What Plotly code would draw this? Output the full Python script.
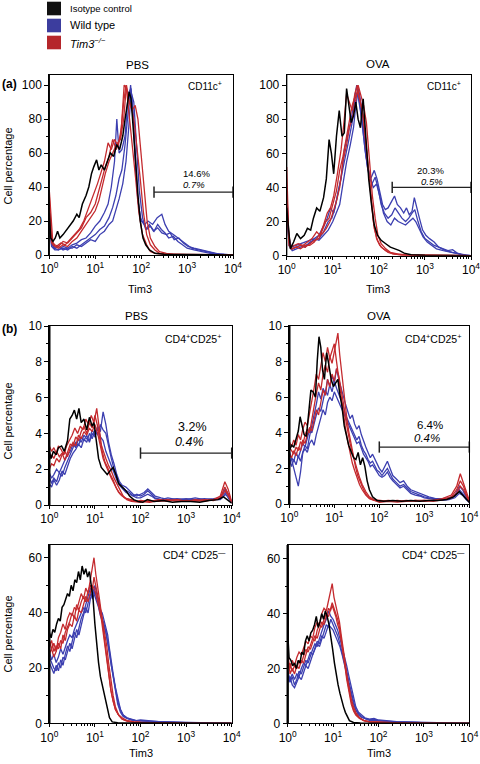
import plotly.graph_objects as go

# ---------------- DATA : (log10 Tim3 intensity, cell percentage) ----------------
# (a) CD11c+  PBS
A_PBS_ISO = [(0.0,25),(0.03,10),(0.08,8),(0.13,10),(0.18,14),(0.23,10),(0.30,12),(0.38,15),(0.45,17),(0.52,20),
             (0.60,24),(0.65,22),(0.72,30),(0.80,35),(0.86,40),(0.92,48),(0.97,52),(1.03,56),(1.08,50),(1.13,53),
             (1.20,50),(1.27,56),(1.33,60),(1.40,58),(1.47,65),(1.53,62),(1.60,70),(1.65,80),(1.70,90),(1.74,96),
             (1.78,92),(1.83,75),(1.88,55),(1.93,35),(1.98,20),(2.04,10),(2.10,6),(2.18,3),(2.30,1),(2.50,0.5),
             (3.0,0.2),(3.5,0.1),(4.0,0)]
A_PBS_WT1 = [(0,22),(0.04,10),(0.1,4),(0.2,3),(0.3,4),(0.4,3),(0.5,5),(0.6,4),(0.7,6),(0.8,8),(0.9,10),(1.0,12),
             (1.1,15),(1.2,17),(1.3,22),(1.38,28),(1.45,35),(1.52,45),(1.58,50),(1.65,65),(1.72,85),(1.77,100),
             (1.82,85),(1.87,60),(1.92,35),(1.98,22),(2.05,18),(2.12,15),(2.2,17),(2.28,14),(2.36,18),(2.44,15),
             (2.52,13),(2.6,10),(2.7,11),(2.8,8),(2.9,6),(3.0,4),(3.15,3),(3.3,2),(3.5,1),(3.7,0.5),(4,0)]
A_PBS_WT2 = [(0,20),(0.05,6),(0.12,4),(0.2,5),(0.3,3),(0.4,4),(0.5,6),(0.6,7),(0.7,9),(0.8,10),(0.9,13),(1.0,17),
             (1.1,20),(1.2,25),(1.28,30),(1.35,40),(1.42,55),(1.47,80),(1.52,60),(1.58,62),(1.65,70),(1.72,95),
             (1.78,98),(1.83,80),(1.88,50),(1.94,30),(2.0,20),(2.08,18),(2.15,20),(2.25,18),(2.35,22),(2.45,24),
             (2.52,18),(2.6,14),(2.7,12),(2.8,10),(2.9,8),(3.0,6),(3.1,4),(3.25,3),(3.4,2),(3.6,1),(3.8,0.3),(4,0)]
A_PBS_WT3 = [(0,18),(0.05,5),(0.12,3),(0.2,3),(0.3,5),(0.4,4),(0.5,4),(0.6,6),(0.7,5),(0.8,7),(0.9,9),(1.0,8),
             (1.1,12),(1.2,14),(1.3,18),(1.38,20),(1.45,26),(1.52,33),(1.6,42),(1.67,55),(1.73,75),(1.78,96),
             (1.84,90),(1.9,65),(1.96,38),(2.03,22),(2.1,15),(2.18,18),(2.27,14),(2.36,16),(2.45,13),(2.55,12),
             (2.63,13),(2.72,9),(2.82,10),(2.92,7),(3.02,5),(3.15,4),(3.3,3),(3.5,1.5),(3.7,0.5),(4,0)]
A_PBS_KO1 = [(0,38),(0.04,20),(0.08,6),(0.15,5),(0.25,7),(0.35,6),(0.45,9),(0.55,12),(0.65,15),(0.75,20),(0.85,27),
             (0.95,35),(1.05,42),(1.12,48),(1.2,55),(1.28,66),(1.35,62),(1.42,68),(1.5,64),(1.57,75),(1.63,100),
             (1.68,98),(1.73,85),(1.8,70),(1.88,45),(1.95,25),(2.03,12),(2.12,6),(2.2,2),(2.3,1),(2.5,0.5),(3,0.2),(4,0)]
A_PBS_KO2 = [(0,35),(0.05,8),(0.12,6),(0.2,5),(0.3,8),(0.4,7),(0.5,10),(0.6,13),(0.7,16),(0.8,22),(0.9,25),(1.0,30),
             (1.08,38),(1.15,45),(1.22,52),(1.3,58),(1.38,68),(1.46,62),(1.55,70),(1.62,90),(1.67,100),(1.72,92),
             (1.78,88),(1.85,78),(1.92,62),(1.98,45),(2.05,25),(2.12,12),(2.2,6),(2.3,3),(2.4,1),(2.6,0.5),(3.0,0.2),(4,0)]
A_PBS_KO3 = [(0,30),(0.05,7),(0.12,5),(0.2,4),(0.3,6),(0.4,5),(0.5,8),(0.6,10),(0.7,14),(0.8,18),(0.9,22),(1.0,26),
             (1.08,32),(1.15,40),(1.22,48),(1.3,55),(1.38,60),(1.46,65),(1.55,68),(1.62,80),(1.68,100),(1.74,90),
             (1.8,85),(1.87,88),(1.93,80),(2.0,60),(2.06,40),(2.13,20),(2.2,10),(2.3,5),(2.4,2),(2.55,1),(2.7,0.5),(3,0.3),(4,0)]

# (a) CD11c+  OVA
A_OVA_ISO = [(0.0,28),(0.03,20),(0.08,4),(0.15,8),(0.22,13),(0.30,10),(0.38,12),(0.45,16),(0.52,15),(0.58,22),
             (0.65,28),(0.72,26),(0.8,34),(0.86,45),(0.92,68),(0.97,60),(1.02,48),(1.08,70),(1.14,85),(1.2,70),
             (1.25,72),(1.3,98),(1.35,88),(1.4,78),(1.45,82),(1.5,90),(1.55,80),(1.6,75),(1.66,92),(1.72,68),
             (1.78,45),(1.84,30),(1.9,18),(1.97,12),(2.05,9),(2.15,7),(2.25,5),(2.35,4),(2.45,3),(2.55,1.5),
             (2.7,0.5),(3.0,0.2),(4.0,0)]
A_OVA_WT1 = [(0,40),(0.04,12),(0.1,5),(0.2,6),(0.3,7),(0.4,8),(0.5,9),(0.6,10),(0.7,12),(0.8,18),(0.88,22),(0.95,28),
             (1.02,25),(1.1,35),(1.18,45),(1.25,62),(1.32,70),(1.4,80),(1.46,90),(1.52,100),(1.58,90),(1.64,78),
             (1.7,62),(1.76,52),(1.82,45),(1.9,50),(1.96,45),(2.02,38),(2.08,30),(2.14,27),(2.2,28),(2.28,32),
             (2.34,35),(2.4,30),(2.47,28),(2.54,25),(2.6,28),(2.66,24),(2.72,26),(2.77,34),(2.82,28),(2.88,22),
             (2.95,15),(3.02,12),(3.1,10),(3.2,8),(3.3,5),(3.4,4),(3.5,3),(3.6,3.5),(3.7,1.5),(3.8,0.5),(4.0,0)]
A_OVA_WT2 = [(0,35),(0.05,8),(0.12,4),(0.2,5),(0.3,6),(0.4,5),(0.5,8),(0.6,9),(0.7,10),(0.8,14),(0.9,20),(0.98,22),
             (1.05,28),(1.12,38),(1.2,48),(1.28,58),(1.35,68),(1.42,78),(1.48,92),(1.54,95),(1.6,85),(1.66,72),
             (1.72,58),(1.78,48),(1.85,42),(1.92,46),(1.98,40),(2.05,30),(2.12,25),(2.2,22),(2.28,24),(2.35,28),
             (2.42,25),(2.5,22),(2.58,20),(2.65,22),(2.72,25),(2.78,27),(2.85,20),(2.92,14),(3.0,10),(3.1,8),
             (3.2,6),(3.3,5),(3.45,3),(3.6,2),(3.75,1),(3.9,0.3),(4,0)]
A_OVA_WT3 = [(0,30),(0.05,6),(0.12,3),(0.2,4),(0.3,5),(0.4,6),(0.5,7),(0.6,10),(0.7,9),(0.8,12),(0.9,15),(1.0,20),
             (1.08,25),(1.15,30),(1.22,42),(1.3,55),(1.38,65),(1.45,75),(1.5,88),(1.56,98),(1.62,88),(1.68,70),
             (1.75,52),(1.82,45),(1.88,40),(1.95,42),(2.02,35),(2.1,25),(2.18,20),(2.26,18),(2.34,22),(2.42,20),
             (2.5,19),(2.58,18),(2.66,20),(2.74,22),(2.8,20),(2.88,15),(2.96,11),(3.05,8),(3.15,6),(3.25,4),
             (3.4,3),(3.55,2),(3.7,1),(3.85,0.3),(4,0)]
A_OVA_KO1 = [(0,52),(0.04,15),(0.08,5),(0.15,6),(0.25,7),(0.35,6),(0.45,8),(0.55,10),(0.65,14),(0.72,12),(0.8,18),
             (0.88,25),(0.95,28),(1.02,35),(1.1,48),(1.18,62),(1.25,80),(1.3,95),(1.36,90),(1.42,85),(1.48,95),
             (1.53,100),(1.58,92),(1.64,85),(1.7,72),(1.76,55),(1.82,35),(1.88,20),(1.95,10),(2.02,6),(2.1,4),
             (2.2,2),(2.35,1),(2.5,0.5),(3,0.2),(4,0)]
A_OVA_KO2 = [(0,40),(0.05,8),(0.1,4),(0.2,5),(0.3,6),(0.4,5),(0.5,7),(0.6,9),(0.7,10),(0.78,15),(0.85,20),(0.92,22),
             (1.0,30),(1.08,38),(1.15,50),(1.22,58),(1.3,70),(1.36,80),(1.42,88),(1.48,93),(1.54,96),(1.6,90),
             (1.66,82),(1.72,65),(1.78,48),(1.84,30),(1.9,16),(1.97,9),(2.05,5),(2.15,3),(2.3,1),(2.5,0.4),(3,0.2),(4,0)]
A_OVA_KO3 = [(0,35),(0.05,6),(0.12,4),(0.2,5),(0.3,4),(0.4,6),(0.5,6),(0.6,8),(0.7,12),(0.78,13),(0.86,16),(0.94,20),
             (1.0,25),(1.08,32),(1.15,40),(1.22,55),(1.3,65),(1.36,75),(1.42,80),(1.48,88),(1.55,100),(1.6,95),
             (1.67,88),(1.73,78),(1.8,55),(1.86,35),(1.92,22),(1.98,12),(2.05,7),(2.15,4),(2.25,2),(2.4,1),
             (2.6,0.4),(3,0.2),(4,0)]

# (b) CD4+CD25+  PBS
B_PBS_ISO = [(0.0,3.0),(0.04,2.6),(0.09,3.0),(0.15,2.8),(0.2,3.2),(0.27,3.3),(0.33,3.0),(0.4,3.6),(0.45,4.8),
             (0.5,5.0),(0.55,5.3),(0.6,4.8),(0.65,5.4),(0.7,4.6),(0.76,4.8),(0.82,4.2),(0.88,4.9),(0.94,4.4),
             (0.98,4.6),(1.03,3.6),(1.08,2.6),(1.14,2.1),(1.2,1.9),(1.27,1.7),(1.33,1.9),(1.4,2.1),(1.46,1.7),
             (1.52,1.2),(1.6,1.0),(1.68,0.8),(1.76,0.5),(1.85,0.3),(1.95,0.2),(2.05,0.15),(2.15,0.3),(2.3,0.2),
             (2.5,0.25),(2.7,0.15),(2.9,0.2),(3.1,0.2),(3.3,0.15),(3.5,0.25),(3.7,0.3),(3.82,0.45),(3.9,0.3),(4.0,0.1)]
B_PBS_WT1 = [(0,1.6),(0.05,1.2),(0.1,1.5),(0.16,1.3),(0.22,1.8),(0.28,1.6),(0.34,2.1),(0.4,2.5),(0.46,2.9),(0.52,3.2),
             (0.58,3.5),(0.64,3.3),(0.7,3.8),(0.76,3.6),(0.82,3.9),(0.88,3.5),(0.94,4.0),(1.0,3.8),(1.06,4.4),
             (1.12,4.1),(1.18,5.2),(1.24,4.5),(1.3,3.5),(1.36,2.8),(1.42,2.3),(1.48,1.7),(1.54,1.3),(1.6,1.1),
             (1.68,1.0),(1.76,0.8),(1.84,0.6),(1.92,0.5),(2.0,0.6),(2.08,0.7),(2.16,0.9),(2.24,0.7),(2.32,0.5),
             (2.45,0.4),(2.6,0.3),(2.8,0.35),(3.0,0.3),(3.2,0.4),(3.4,0.3),(3.6,0.35),(3.75,0.4),(3.86,0.9),
             (3.93,0.6),(4.0,0.2)]
B_PBS_WT2 = [(0,1.2),(0.05,1.0),(0.1,1.4),(0.16,1.1),(0.22,1.4),(0.28,1.9),(0.34,1.7),(0.4,2.2),(0.46,2.6),(0.52,2.9),
             (0.58,3.1),(0.64,3.4),(0.7,3.2),(0.76,3.7),(0.82,3.5),(0.88,4.0),(0.94,3.7),(1.0,4.2),(1.06,3.9),
             (1.12,4.5),(1.18,4.2),(1.24,4.0),(1.3,3.2),(1.36,2.6),(1.42,2.0),(1.48,1.6),(1.54,1.2),(1.6,1.0),
             (1.68,0.8),(1.76,0.7),(1.84,0.5),(1.92,0.6),(2.0,0.5),(2.08,0.6),(2.16,0.8),(2.24,0.6),(2.32,0.4),
             (2.45,0.3),(2.6,0.4),(2.8,0.3),(3.0,0.35),(3.2,0.3),(3.4,0.35),(3.6,0.3),(3.75,0.35),(3.87,0.7),
             (3.93,0.5),(4.0,0.15)]
B_PBS_WT3 = [(0,1.8),(0.05,1.5),(0.1,1.7),(0.16,2.0),(0.22,1.8),(0.28,2.2),(0.34,2.5),(0.4,2.8),(0.46,3.0),(0.52,3.4),
             (0.58,3.2),(0.64,3.7),(0.7,3.5),(0.76,3.9),(0.82,3.7),(0.88,3.6),(0.94,4.2),(1.0,3.9),(1.06,4.3),
             (1.12,3.8),(1.18,3.6),(1.24,3.0),(1.3,2.6),(1.36,2.1),(1.42,1.7),(1.48,1.4),(1.54,1.1),(1.6,0.9),
             (1.68,0.7),(1.76,0.6),(1.84,0.5),(1.92,0.4),(2.0,0.4),(2.08,0.5),(2.16,0.6),(2.24,0.5),(2.32,0.35),
             (2.45,0.3),(2.6,0.25),(2.8,0.3),(3.0,0.25),(3.2,0.3),(3.4,0.25),(3.6,0.3),(3.75,0.3),(3.87,0.6),
             (3.93,0.4),(4.0,0.1)]
B_PBS_KO1 = [(0,3.3),(0.05,3.0),(0.1,3.2),(0.15,2.9),(0.2,3.3),(0.26,3.1),(0.32,2.8),(0.38,3.3),(0.44,3.6),(0.5,3.9),
             (0.56,4.3),(0.62,4.0),(0.68,4.4),(0.74,4.2),(0.8,4.8),(0.86,4.5),(0.92,5.0),(0.98,4.6),(1.04,5.4),
             (1.1,4.2),(1.16,3.0),(1.22,2.4),(1.28,2.1),(1.34,1.7),(1.4,1.4),(1.46,1.0),(1.52,0.7),(1.6,0.5),
             (1.7,0.35),(1.8,0.3),(1.9,0.2),(2.0,0.25),(2.2,0.2),(2.4,0.3),(2.6,0.25),(2.8,0.3),(3.0,0.2),(3.2,0.3),
             (3.4,0.25),(3.6,0.3),(3.75,0.5),(3.85,1.3),(3.92,0.9),(4.0,0.2)]
B_PBS_KO2 = [(0,2.5),(0.05,2.8),(0.1,2.6),(0.16,3.0),(0.22,2.7),(0.28,2.9),(0.34,2.5),(0.4,3.0),(0.46,3.4),(0.52,3.3),
             (0.58,3.8),(0.64,3.6),(0.7,4.1),(0.76,4.4),(0.82,4.0),(0.88,4.6),(0.94,4.3),(1.0,5.0),(1.06,4.4),
             (1.12,3.5),(1.18,3.0),(1.24,2.6),(1.3,2.2),(1.36,1.9),(1.42,1.5),(1.48,1.2),(1.55,0.8),(1.62,0.5),
             (1.7,0.3),(1.8,0.2),(2.0,0.15),(2.2,0.25),(2.4,0.2),(2.6,0.3),(2.8,0.2),(3.0,0.25),(3.2,0.2),(3.4,0.3),
             (3.6,0.25),(3.75,0.4),(3.85,1.0),(3.93,0.6),(4.0,0.2)]
B_PBS_KO3 = [(0,2.0),(0.05,2.3),(0.1,2.2),(0.16,2.6),(0.22,2.4),(0.28,2.8),(0.34,3.0),(0.4,2.7),(0.46,3.2),(0.52,3.5),
             (0.58,3.3),(0.64,3.9),(0.7,3.7),(0.76,4.1),(0.82,3.9),(0.88,4.3),(0.94,4.1),(1.0,4.5),(1.06,4.0),
             (1.12,3.3),(1.18,2.6),(1.24,2.2),(1.3,1.8),(1.36,1.5),(1.42,1.2),(1.48,0.9),(1.56,0.6),(1.65,0.4),
             (1.75,0.3),(1.85,0.2),(2.0,0.2),(2.2,0.15),(2.4,0.25),(2.6,0.2),(2.8,0.3),(3.0,0.2),(3.2,0.25),
             (3.4,0.2),(3.6,0.3),(3.75,0.4),(3.86,0.8),(3.93,0.5),(4.0,0.1)]

# (b) CD4+CD25+  OVA
B_OVA_ISO = [(0.0,3.0),(0.05,3.3),(0.1,3.2),(0.15,3.7),(0.2,4.1),(0.24,4.9),(0.28,4.5),(0.33,3.9),(0.38,3.8),
             (0.43,5.0),(0.48,6.4),(0.53,6.3),(0.58,6.0),(0.62,8.0),(0.66,9.4),(0.7,8.8),(0.74,7.5),(0.78,7.0),
             (0.83,8.5),(0.88,7.8),(0.93,7.0),(0.98,6.6),(1.03,6.8),(1.08,7.0),(1.12,6.2),(1.17,5.5),(1.22,4.4),
             (1.27,3.8),(1.32,3.3),(1.38,2.9),(1.43,2.6),(1.48,2.5),(1.53,2.9),(1.58,2.2),(1.63,2.6),(1.68,2.1),
             (1.73,1.3),(1.78,0.8),(1.85,0.4),(1.95,0.2),(2.1,0.15),(2.3,0.2),(2.5,0.15),(2.7,0.2),(2.9,0.15),
             (3.1,0.2),(3.3,0.2),(3.5,0.25),(3.65,0.4),(3.78,0.7),(3.85,0.5),(3.93,0.3),(4.0,0.1)]
B_OVA_WT1 = [(0,3.0),(0.05,2.4),(0.1,2.0),(0.15,1.5),(0.2,1.0),(0.25,1.8),(0.3,2.9),(0.35,3.3),(0.4,3.1),(0.45,3.8),
             (0.5,4.5),(0.55,5.0),(0.6,5.6),(0.65,6.3),(0.7,5.9),(0.75,6.5),(0.8,6.2),(0.85,7.0),(0.9,6.6),(0.95,7.2),
             (1.0,6.8),(1.05,7.6),(1.1,7.0),(1.15,6.5),(1.2,6.0),(1.25,5.6),(1.3,5.2),(1.35,4.8),(1.4,5.0),(1.45,4.5),
             (1.5,4.2),(1.55,4.4),(1.6,3.9),(1.65,3.5),(1.7,3.2),(1.75,2.9),(1.8,2.6),(1.85,2.8),(1.9,2.5),(1.95,2.2),
             (2.0,2.0),(2.06,1.8),(2.12,2.1),(2.18,2.4),(2.24,2.0),(2.3,1.6),(2.38,1.4),(2.46,1.2),(2.54,1.3),
             (2.62,1.0),(2.7,0.8),(2.8,0.7),(2.9,0.6),(3.0,0.5),(3.1,0.4),(3.25,0.3),(3.4,0.3),(3.55,0.35),
             (3.68,0.5),(3.78,1.0),(3.85,0.8),(3.93,0.4),(4.0,0.1)]
B_OVA_WT2 = [(0,2.2),(0.05,2.6),(0.1,2.4),(0.15,2.9),(0.2,2.6),(0.25,3.0),(0.3,3.4),(0.35,3.2),(0.4,3.7),(0.45,4.2),
             (0.5,4.0),(0.55,4.6),(0.6,5.0),(0.65,5.4),(0.7,5.2),(0.75,5.8),(0.8,6.4),(0.85,6.1),(0.9,6.7),(0.95,6.3),
             (1.0,6.9),(1.05,6.5),(1.1,6.2),(1.15,5.8),(1.2,5.5),(1.25,5.0),(1.3,4.7),(1.35,4.4),(1.4,4.2),(1.45,3.9),
             (1.5,3.6),(1.55,3.8),(1.6,3.3),(1.65,3.0),(1.7,2.8),(1.75,2.5),(1.8,2.3),(1.85,2.4),(1.9,2.1),(1.95,1.9),
             (2.0,1.8),(2.06,1.6),(2.12,1.8),(2.18,2.0),(2.24,1.7),(2.3,1.4),(2.38,1.2),(2.46,1.0),(2.54,1.1),
             (2.62,0.9),(2.7,0.7),(2.8,0.6),(2.9,0.5),(3.0,0.4),(3.1,0.35),(3.25,0.3),(3.4,0.25),(3.55,0.3),
             (3.68,0.45),(3.78,0.8),(3.85,0.6),(3.93,0.3),(4.0,0.1)]
B_OVA_WT3 = [(0,2.6),(0.05,2.1),(0.1,2.5),(0.15,2.2),(0.2,2.7),(0.25,2.4),(0.3,2.9),(0.35,3.1),(0.4,2.9),(0.45,3.4),
             (0.5,3.6),(0.55,3.3),(0.6,3.9),(0.65,4.4),(0.7,4.8),(0.75,5.3),(0.8,5.0),(0.85,5.7),(0.9,6.0),(0.95,5.8),
             (1.0,6.3),(1.05,6.0),(1.1,5.8),(1.15,5.5),(1.2,5.2),(1.25,4.8),(1.3,4.5),(1.35,4.2),(1.4,4.0),(1.45,3.7),
             (1.5,3.4),(1.55,3.5),(1.6,3.1),(1.65,2.8),(1.7,2.6),(1.75,2.4),(1.8,2.1),(1.85,2.2),(1.9,2.0),(1.95,1.8),
             (2.0,1.6),(2.06,1.5),(2.12,1.6),(2.18,1.8),(2.24,1.5),(2.3,1.3),(2.38,1.1),(2.46,0.9),(2.54,1.0),
             (2.62,0.8),(2.7,0.6),(2.8,0.5),(2.9,0.45),(3.0,0.35),(3.1,0.3),(3.25,0.25),(3.4,0.2),(3.55,0.25),
             (3.68,0.35),(3.78,0.6),(3.85,0.5),(3.93,0.25),(4.0,0.1)]
B_OVA_KO1 = [(0,3.5),(0.05,3.2),(0.1,3.6),(0.15,3.3),(0.2,3.9),(0.25,3.6),(0.3,4.2),(0.35,4.6),(0.4,4.4),(0.45,5.2),
             (0.5,5.8),(0.55,6.5),(0.6,7.3),(0.65,7.0),(0.7,7.8),(0.75,8.5),(0.8,8.0),(0.85,8.8),(0.9,8.2),(0.95,8.6),
             (1.0,9.0),(1.05,8.0),(1.1,7.0),(1.15,6.0),(1.2,5.0),(1.25,4.2),(1.3,3.5),(1.35,2.8),(1.4,2.3),(1.45,1.9),
             (1.5,1.5),(1.56,1.1),(1.62,0.8),(1.7,0.5),(1.78,0.3),(1.88,0.2),(2.0,0.15),(2.2,0.2),(2.4,0.15),
             (2.6,0.2),(2.8,0.15),(3.0,0.2),(3.2,0.2),(3.4,0.3),(3.6,0.5),(3.72,1.0),(3.8,1.7),(3.87,1.2),
             (3.94,0.6),(4.0,0.2)]
B_OVA_KO2 = [(0,3.2),(0.05,3.0),(0.1,2.8),(0.15,3.2),(0.2,3.0),(0.25,3.5),(0.3,3.3),(0.35,3.9),(0.4,4.2),(0.45,4.0),
             (0.5,4.8),(0.55,5.5),(0.6,6.2),(0.65,6.8),(0.7,6.4),(0.75,7.3),(0.8,7.8),(0.85,7.4),(0.9,8.3),(0.95,7.9),
             (1.0,8.6),(1.05,9.3),(1.08,9.6),(1.12,8.4),(1.17,7.2),(1.22,6.0),(1.27,5.0),(1.32,4.1),(1.37,3.4),
             (1.42,2.7),(1.47,2.1),(1.52,1.6),(1.58,1.2),(1.65,0.8),(1.72,0.5),(1.8,0.3),(1.9,0.2),(2.0,0.1),
             (2.2,0.15),(2.4,0.1),(2.6,0.15),(2.8,0.2),(3.0,0.15),(3.2,0.2),(3.4,0.25),(3.6,0.4),(3.72,0.8),
             (3.8,1.3),(3.87,1.0),(3.94,0.5),(4.0,0.15)]
B_OVA_KO3 = [(0,2.8),(0.05,2.6),(0.1,3.0),(0.15,2.7),(0.2,3.2),(0.25,3.0),(0.3,3.6),(0.35,3.4),(0.4,3.9),(0.45,4.3),
             (0.5,4.1),(0.55,4.7),(0.6,5.3),(0.65,5.0),(0.7,5.8),(0.75,6.4),(0.8,6.1),(0.85,7.0),(0.9,6.6),(0.95,7.3),
             (1.0,6.9),(1.05,7.6),(1.1,7.2),(1.15,6.5),(1.2,5.7),(1.25,4.8),(1.3,4.0),(1.35,3.4),(1.4,2.9),(1.45,2.4),
             (1.5,2.0),(1.56,1.5),(1.62,1.1),(1.7,0.7),(1.78,0.4),(1.88,0.25),(2.0,0.2),(2.2,0.15),(2.4,0.2),
             (2.6,0.15),(2.8,0.2),(3.0,0.2),(3.2,0.15),(3.4,0.25),(3.6,0.35),(3.72,0.6),(3.8,1.0),(3.87,0.8),
             (3.94,0.4),(4.0,0.1)]

# CD4+CD25-  PBS
C_PBS_ISO = [(0.0,33),(0.04,31),(0.08,34),(0.12,33),(0.16,36),(0.2,38),(0.24,37),(0.28,42),(0.32,43),(0.36,45),
             (0.4,47),(0.44,46),(0.48,50),(0.52,48),(0.56,52),(0.6,51),(0.64,55),(0.68,52),(0.72,57),(0.76,54),
             (0.8,56),(0.84,53),(0.88,55),(0.92,50),(0.96,45),(1.0,36),(1.04,28),(1.08,22),(1.12,17),(1.16,14),
             (1.2,11),(1.24,8),(1.28,4),(1.32,2),(1.38,0.5),(1.5,0.2),(2.0,0.1),(3.0,0),(4.0,0)]
C_PBS_WT1 = [(0,22),(0.05,20),(0.1,18),(0.15,21),(0.2,19),(0.25,23),(0.3,21),(0.35,25),(0.4,28),(0.45,26),(0.5,30),
             (0.55,33),(0.6,31),(0.65,35),(0.7,38),(0.75,40),(0.8,43),(0.85,46),(0.9,49),(0.95,47),(1.0,50),(1.04,47),
             (1.08,44),(1.12,41),(1.16,40),(1.2,37),(1.24,35),(1.28,32),(1.32,27),(1.36,22),(1.4,18),(1.45,13),
             (1.5,9),(1.56,5),(1.62,3),(1.7,2),(1.8,1.5),(1.9,1),(2.0,1.2),(2.2,0.8),(2.4,0.6),(2.6,0.5),(2.8,0.4),
             (3.0,0.3),(3.2,0.2),(3.5,0),(4.0,0)]
C_PBS_WT2 = [(0,24),(0.05,22),(0.1,20),(0.15,19),(0.2,22),(0.25,20),(0.3,24),(0.35,23),(0.4,26),(0.45,29),(0.5,27),
             (0.55,31),(0.6,34),(0.65,32),(0.7,36),(0.75,39),(0.8,42),(0.85,40),(0.9,45),(0.95,48),(1.0,46),(1.04,44),
             (1.08,42),(1.12,39),(1.16,37),(1.2,35),(1.24,33),(1.28,29),(1.32,25),(1.36,20),(1.4,16),(1.45,11),
             (1.5,7),(1.56,4),(1.62,2.5),(1.7,1.8),(1.8,1.2),(1.9,1),(2.0,0.8),(2.2,0.6),(2.4,0.5),(2.6,0.4),
             (2.8,0.3),(3.0,0.2),(3.2,0.1),(3.5,0),(4.0,0)]
C_PBS_WT3 = [(0,26),(0.05,23),(0.1,25),(0.15,22),(0.2,24),(0.25,27),(0.3,25),(0.35,28),(0.4,30),(0.45,32),(0.5,31),
             (0.55,34),(0.6,36),(0.65,38),(0.7,40),(0.75,42),(0.8,40),(0.85,44),(0.9,47),(0.95,45),(1.0,48),(1.04,45),
             (1.08,43),(1.12,40),(1.16,38),(1.2,36),(1.24,33),(1.28,30),(1.32,26),(1.36,21),(1.4,17),(1.45,12),
             (1.5,8),(1.56,5),(1.62,3),(1.7,2),(1.8,1.3),(1.9,1),(2.0,0.9),(2.2,0.7),(2.4,0.5),(2.6,0.4),(2.8,0.3),
             (3.0,0.2),(3.2,0.1),(3.5,0),(4.0,0)]
C_PBS_KO1 = [(0,30),(0.05,27),(0.1,29),(0.15,26),(0.2,31),(0.25,33),(0.3,36),(0.35,34),(0.4,38),(0.45,40),(0.5,39),
             (0.55,42),(0.6,41),(0.65,44),(0.7,47),(0.75,45),(0.8,49),(0.85,47),(0.9,52),(0.94,56),(0.98,60),
             (1.02,54),(1.06,50),(1.1,45),(1.14,40),(1.18,35),(1.22,30),(1.26,24),(1.3,18),(1.35,12),(1.4,8),
             (1.45,5),(1.52,3),(1.6,1.5),(1.7,1),(1.85,0.5),(2.0,0.3),(2.3,0.2),(2.6,0.1),(3.0,0),(4.0,0)]
C_PBS_KO2 = [(0,28),(0.05,30),(0.1,26),(0.15,28),(0.2,27),(0.25,30),(0.3,29),(0.35,33),(0.4,35),(0.45,37),(0.5,40),
             (0.55,38),(0.6,43),(0.65,41),(0.7,44),(0.75,46),(0.8,44),(0.85,48),(0.9,50),(0.94,48),(0.98,53),
             (1.02,50),(1.06,46),(1.1,43),(1.14,40),(1.18,36),(1.22,32),(1.26,28),(1.3,22),(1.35,15),(1.4,10),
             (1.45,6),(1.52,3),(1.6,2),(1.7,1),(1.85,0.5),(2.0,0.3),(2.3,0.2),(2.6,0.1),(3.0,0),(4.0,0)]
C_PBS_KO3 = [(0,25),(0.05,27),(0.1,24),(0.15,26),(0.2,29),(0.25,27),(0.3,32),(0.35,30),(0.4,34),(0.45,36),(0.5,35),
             (0.55,39),(0.6,37),(0.65,41),(0.7,40),(0.75,43),(0.8,46),(0.85,44),(0.9,47),(0.94,50),(0.98,49),
             (1.02,47),(1.06,44),(1.1,41),(1.14,38),(1.18,33),(1.22,28),(1.26,22),(1.3,17),(1.35,12),(1.4,8),
             (1.45,5),(1.52,3),(1.6,1.5),(1.7,0.8),(1.85,0.4),(2.0,0.3),(2.5,0.1),(3.0,0),(4.0,0)]

# CD4+CD25-  OVA
C_OVA_ISO = [(0.0,62),(0.01,30),(0.03,24),(0.07,23),(0.11,21),(0.15,22),(0.19,20),(0.23,23),(0.27,22),(0.31,26),
             (0.35,25),(0.39,30),(0.43,32),(0.47,30),(0.51,33),(0.55,34),(0.59,36),(0.63,39),(0.67,35),(0.71,37),
             (0.75,40),(0.79,38),(0.83,41),(0.87,39),(0.91,36),(0.95,32),(0.99,27),(1.03,22),(1.07,17),(1.11,14),
             (1.15,11),(1.19,8),(1.23,6),(1.27,4),(1.31,2.5),(1.36,1),(1.45,0.3),(1.6,0.1),(2.0,0),(4.0,0)]
C_OVA_WT1 = [(0,18),(0.05,15),(0.1,17),(0.15,14),(0.2,16),(0.25,19),(0.3,18),(0.35,21),(0.4,23),(0.45,22),(0.5,25),
             (0.55,27),(0.6,29),(0.65,28),(0.7,31),(0.75,34),(0.8,36),(0.85,38),(0.9,41),(0.95,39),(1.0,38),(1.05,36),
             (1.1,34),(1.15,31),(1.2,28),(1.25,25),(1.3,21),(1.35,17),(1.4,13),(1.45,9),(1.5,6),(1.56,4),(1.62,3),
             (1.7,2),(1.8,1.5),(1.9,1.8),(2.0,1.2),(2.2,0.8),(2.4,0.6),(2.6,0.5),(2.8,0.4),(3.0,0.3),(3.2,0.2),
             (3.5,0),(4,0)]
C_OVA_WT2 = [(0,15),(0.05,17),(0.1,14),(0.15,13),(0.2,15),(0.25,17),(0.3,16),(0.35,19),(0.4,21),(0.45,20),(0.5,23),
             (0.55,25),(0.6,27),(0.65,29),(0.7,28),(0.75,31),(0.8,33),(0.85,36),(0.9,35),(0.95,38),(1.0,36),(1.05,34),
             (1.1,32),(1.15,29),(1.2,26),(1.25,23),(1.3,19),(1.35,15),(1.4,11),(1.45,8),(1.5,5),(1.56,3.5),
             (1.62,2.5),(1.7,1.8),(1.8,1.3),(1.9,1.5),(2.0,1),(2.2,0.7),(2.4,0.5),(2.6,0.4),(2.8,0.3),(3.0,0.2),
             (3.2,0.1),(3.5,0),(4,0)]
C_OVA_WT3 = [(0,19),(0.05,16),(0.1,18),(0.15,16),(0.2,18),(0.25,17),(0.3,20),(0.35,22),(0.4,21),(0.45,24),(0.5,26),
             (0.55,25),(0.6,28),(0.65,30),(0.7,29),(0.75,32),(0.8,31),(0.85,34),(0.9,36),(0.95,35),(1.0,34),(1.05,32),
             (1.1,30),(1.15,28),(1.2,25),(1.25,22),(1.3,18),(1.35,14),(1.4,10),(1.45,7),(1.5,5),(1.56,3),(1.62,2.2),
             (1.7,1.6),(1.8,1.1),(1.9,1.2),(2.0,0.9),(2.2,0.6),(2.4,0.5),(2.6,0.4),(2.8,0.3),(3.0,0.2),(3.2,0.1),
             (3.5,0),(4,0)]
C_OVA_KO1 = [(0,22),(0.05,20),(0.1,23),(0.15,21),(0.2,24),(0.25,26),(0.3,25),(0.35,28),(0.4,30),(0.45,29),(0.5,32),
             (0.55,31),(0.6,35),(0.65,37),(0.7,36),(0.75,40),(0.8,42),(0.85,41),(0.9,45),(0.94,48),(0.98,51),
             (1.02,46),(1.06,43),(1.1,40),(1.14,37),(1.18,32),(1.22,28),(1.26,23),(1.3,18),(1.35,13),(1.4,9),
             (1.45,6),(1.5,4),(1.58,2),(1.68,1),(1.8,0.6),(2.0,0.4),(2.3,0.2),(2.6,0.1),(3,0),(4,0)]
C_OVA_KO2 = [(0,20),(0.05,22),(0.1,19),(0.15,21),(0.2,20),(0.25,23),(0.3,22),(0.35,25),(0.4,27),(0.45,26),(0.5,29),
             (0.55,31),(0.6,30),(0.65,34),(0.7,36),(0.75,35),(0.8,38),(0.85,40),(0.9,39),(0.94,42),(0.98,44),
             (1.02,42),(1.06,40),(1.1,38),(1.14,35),(1.18,31),(1.22,27),(1.26,22),(1.3,17),(1.35,12),(1.4,8),
             (1.45,5),(1.5,3.5),(1.58,2),(1.68,1),(1.8,0.5),(2.0,0.3),(2.3,0.2),(2.6,0.1),(3,0),(4,0)]
C_OVA_KO3 = [(0,64),(0.01,25),(0.05,18),(0.1,20),(0.15,18),(0.2,21),(0.25,20),(0.3,23),(0.35,22),(0.4,25),(0.45,28),
             (0.5,27),(0.55,30),(0.6,32),(0.65,31),(0.7,34),(0.75,37),(0.8,36),(0.85,39),(0.9,42),(0.94,41),
             (0.98,43),(1.02,41),(1.06,39),(1.1,36),(1.14,34),(1.18,30),(1.22,26),(1.26,21),(1.3,16),(1.35,11),
             (1.4,7),(1.45,4.5),(1.5,3),(1.58,1.8),(1.68,1),(1.8,0.5),(2.0,0.3),(2.3,0.1),(3,0),(4,0)]

# gates (panels a-PBS, a-OVA, b-PBS, b-OVA)
GATE_START_LOG = [2.28, 2.29, 2.0, 2.0]
GATE_END_LOG = [4.0, 4.0, 4.0, 4.0]
GATE_LEVEL = [37, 40, 2.9, 3.2]
GATE_WT_TEXT = ["14.6%", "20.3%", "3.2%", "6.4%"]
GATE_KO_TEXT = ["0.7%", "0.5%", "0.4%", "0.4%"]

X_TICK_VALS = [1, 10, 100, 1000, 10000]
X_TICK_TEXT = ["10<sup>0</sup>", "10<sup>1</sup>", "10<sup>2</sup>", "10<sup>3</sup>", "10<sup>4</sup>"]

# ---------------- FIGURE ----------------
W, H = 480, 764
BLACK = "#000000"
BLUE = "#3c3fb0"
RED = "#c42a2e"
FONT = "Liberation Sans, Arial, Helvetica, sans-serif"


def px(x):
    return x / W


def py(y):
    return 1 - y / H


def ax_id(i):
    return "" if i == 1 else str(i)


panels = [
    (A_PBS_ISO, [A_PBS_WT1, A_PBS_WT2, A_PBS_WT3], [A_PBS_KO1, A_PBS_KO2, A_PBS_KO3],
     (49.3, 233.0), (75, 255), [0, 105.9], [0, 20, 40, 60, 80, 100], 10, 1.3),
    (A_OVA_ISO, [A_OVA_WT1, A_OVA_WT2, A_OVA_WT3], [A_OVA_KO1, A_OVA_KO2, A_OVA_KO3],
     (286.7, 471.0), (75, 255.7), [0, 105.9], [0, 20, 40, 60, 80, 100], 10, 1.3),
    (B_PBS_ISO, [B_PBS_WT1, B_PBS_WT2, B_PBS_WT3], [B_PBS_KO1, B_PBS_KO2, B_PBS_KO3],
     (49.3, 231.7), (326, 505), [0, 10], [0, 2, 4, 6, 8, 10], 1, 2.4),
    (B_OVA_ISO, [B_OVA_WT1, B_OVA_WT2, B_OVA_WT3], [B_OVA_KO1, B_OVA_KO2, B_OVA_KO3],
     (289.3, 469.3), (326, 504), [0, 10], [0, 2, 4, 6, 8, 10], 1, 2.4),
    (C_PBS_ISO, [C_PBS_WT1, C_PBS_WT2, C_PBS_WT3], [C_PBS_KO1, C_PBS_KO2, C_PBS_KO3],
     (49.3, 231.7), (545, 723.3), [0, 64.6], [0, 20, 40, 60], 10, 2.4),
    (C_OVA_ISO, [C_OVA_WT1, C_OVA_WT2, C_OVA_WT3], [C_OVA_KO1, C_OVA_KO2, C_OVA_KO3],
     (287.7, 469.3), (545, 723.3), [0, 65.1], [0, 20, 40, 60], 10, 2.4),
]

fig = go.Figure()
layout = dict(width=W, height=H, margin=dict(l=0, r=0, t=0, b=0, pad=0, autoexpand=False),
              paper_bgcolor="white", plot_bgcolor="white", showlegend=False,
              font=dict(family=FONT, color="black"))
shapes = []
annotations = []

minor_vals = [m * 10 ** k for k in range(4) for m in range(2, 10)]


def add_line(pts, color, i, width=1.3):
    a = ax_id(i)
    fig.add_trace(go.Scatter(x=[10 ** p[0] for p in pts], y=[p[1] for p in pts], mode="lines",
                             line=dict(color=color, width=width), xaxis="x" + a, yaxis="y" + a,
                             hoverinfo="skip"))


for idx, (iso, wts, kos, xd, yd, yr, ytv, ymin, lw) in enumerate(panels):
    i = idx + 1
    a = ax_id(i)
    for pts in wts:
        add_line(pts, BLUE, i)
    for pts in kos:
        add_line(pts, RED, i)
    add_line(iso, BLACK, i, 1.5)
    layout["xaxis" + a] = dict(domain=[px(xd[0]), px(xd[1])], anchor="y" + a, type="log", range=[0, 4],
                               tickvals=X_TICK_VALS, ticktext=X_TICK_TEXT, ticks="outside", ticklen=3,
                               tickwidth=1, tickcolor="black", showline=True, mirror=True, linecolor="black",
                               linewidth=1, showgrid=False, zeroline=False, automargin=False,
                               ticklabeloverflow="allow",
                               tickfont=dict(size=12, family=FONT, color="black"),
                               minor=dict(tickvals=minor_vals, ticks="outside", ticklen=2, tickcolor="black",
                                          showgrid=False))
    layout["yaxis" + a] = dict(domain=[py(yd[1]), py(yd[0])], anchor="x" + a, range=yr, tickvals=ytv,
                               ticks="outside", ticklen=4, tickwidth=1, tickcolor="black", showline=True,
                               mirror=True, linecolor="black", linewidth=1, showgrid=False, zeroline=False,
                               automargin=False,
                               tickfont=dict(size=12, family=FONT, color="black"),
                               minor=dict(dtick=ymin, ticks="outside", ticklen=2, tickcolor="black",
                                          showgrid=False))
    shapes.append(dict(type="line", xref="x" + a + " domain", yref="y" + a + " domain", x0=0, x1=0, y0=0, y1=1,
                       line=dict(color="black", width=lw)))

# gates
for g in range(4):
    a = ax_id(g + 1)
    fig.add_trace(go.Scatter(x=[10 ** GATE_START_LOG[g], 10 ** GATE_END_LOG[g]], y=[GATE_LEVEL[g], GATE_LEVEL[g]],
                             mode="lines+markers", line=dict(color="#222222", width=1.3),
                             marker=dict(symbol="line-ns-open", size=8, line=dict(color="#222222", width=1.5)),
                             xaxis="x" + a, yaxis="y" + a, cliponaxis=False, hoverinfo="skip"))

gate_text_pos = [((196, 173), (194, 184.5), 9.5), ((430, 170), (432, 181), 9.5),
                 ((192, 427), (189, 442), 12.5), ((430, 424.5), (427, 438), 11.5)]
for g, ((x1, y1), (x2, y2), fs) in enumerate(gate_text_pos):
    annotations.append(dict(x=px(x1), y=py(y1), xref="paper", yref="paper", text=GATE_WT_TEXT[g],
                            showarrow=False, font=dict(size=fs, family=FONT), xanchor="center", yanchor="middle"))
    annotations.append(dict(x=px(x2), y=py(y2), xref="paper", yref="paper", text=f"<i>{GATE_KO_TEXT[g]}</i>",
                            showarrow=False, font=dict(size=fs, family=FONT), xanchor="center", yanchor="middle"))


def txt(x, y, s, size=11, xa="center", ya="middle", angle=0):
    annotations.append(dict(x=px(x), y=py(y), xref="paper", yref="paper", text=s, showarrow=False,
                            font=dict(size=size, family=FONT, color="black"), xanchor=xa, yanchor=ya,
                            textangle=angle))


txt(137.5, 65, "PBS", 11.5)
txt(378, 64, "OVA", 11.5)
txt(136, 316.5, "PBS", 11.5)
txt(379, 316.5, "OVA", 11.5)
txt(9, 83.5, "<b>(a)</b>", 12)
txt(9, 329, "<b>(b)</b>", 12)
txt(7.5, 166, "Cell percentage", 11, angle=-90)
txt(7.5, 421, "Cell percentage", 11, angle=-90)
txt(7.5, 634, "Cell percentage", 11, angle=-90)
txt(140, 289, "Tim3", 11)
txt(378, 289, "Tim3", 11)
txt(141, 752.5, "Tim3", 11)
txt(379, 752.5, "Tim3", 11)
txt(224, 86, "CD11c<sup>+</sup>", 10, xa="right")
txt(463, 86, "CD11c<sup>+</sup>", 10, xa="right")
txt(223, 338, "CD4<sup>+</sup>CD25<sup>+</sup>", 10.5, xa="right")
txt(463, 338, "CD4<sup>+</sup>CD25<sup>+</sup>", 10.5, xa="right")
txt(228, 554, "CD4<sup>+</sup> CD25<sup>\u2014</sup>", 10.5, xa="right")
txt(467, 554, "CD4<sup>+</sup> CD25<sup>\u2014</sup>", 10.5, xa="right")

legend_items = [("Isotype control", "#111111", 8.5, 9.5), ("Wild type", "#3c3d9e", 25.5, 11),
                ("<i>Tim3</i><sup><i>\u2212/\u2212</i></sup>", "#b5262b", 42.5, 11)]
for label, col, yc, fs in legend_items:
    shapes.append(dict(type="rect", xref="paper", yref="paper", x0=px(47), x1=px(61), y0=py(yc + 6.8),
                       y1=py(yc - 6.8), fillcolor=col, line=dict(width=0)))
    txt(68, yc, label, fs, xa="left")

layout["shapes"] = shapes
layout["annotations"] = annotations
fig.update_layout(**layout)
fig.write_html("out.html", config={"displayModeBar": False},
               post_script="document.body.style.margin='0';document.body.style.overflow='hidden';")
